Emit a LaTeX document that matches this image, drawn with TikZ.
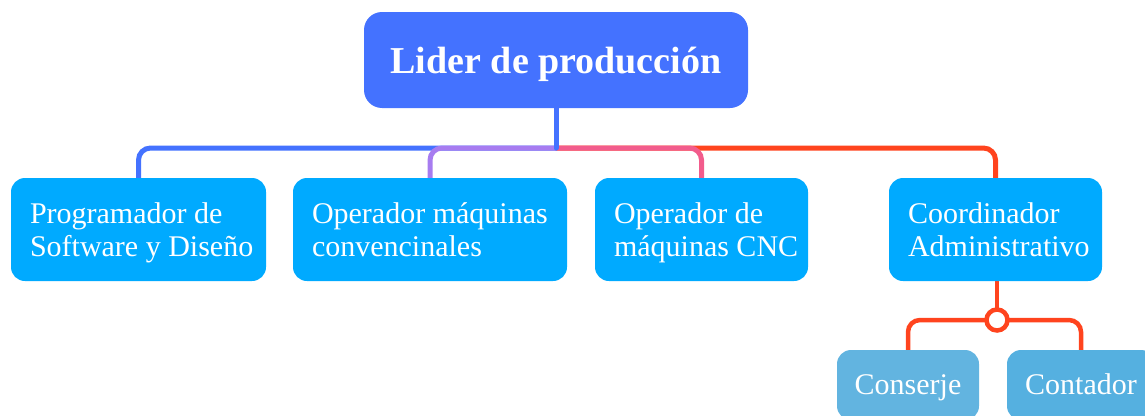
\documentclass[tikz,border=0pt]{standalone}
\usepackage{fontspec}
\setmainfont{Liberation Serif}
\definecolor{rootblue}{HTML}{4472FF}
\definecolor{cyanbox}{HTML}{00AAFF}
\definecolor{leafA}{HTML}{62B4E0}
\definecolor{leafB}{HTML}{55B0E0}
\definecolor{lblue}{HTML}{4472FF}
\definecolor{lpurple}{HTML}{A77CF0}
\definecolor{lpink}{HTML}{F25C8C}
\definecolor{lred}{HTML}{FF441E}
\pgfdeclarelayer{background}
\pgfsetlayers{background,main}
\begin{document}
\begin{tikzpicture}[x=1pt,y=-1pt,
  rootbox/.style={fill=rootblue, rounded corners=18pt, minimum width=384pt, minimum height=96pt,
    inner sep=0pt, text=white, font=\fontsize{38}{44}\selectfont\bfseries, text height=30pt, text depth=4pt},
  rolebox/.style={fill=cyanbox, rounded corners=14pt, minimum height=103pt, inner xsep=19pt, inner ysep=0pt,
    text=white, align=left, font=\fontsize{30}{33}\selectfont,
    execute at begin node={\spaceskip=0.25em\relax\xspaceskip=0.25em\relax\rule{0pt}{27pt}},
    execute at end node={\rule[-7pt]{0pt}{7pt}}},
  leafbox/.style={rounded corners=14pt, minimum height=70pt, inner sep=0pt, text=white,
    font=\fontsize{30}{33}\selectfont, text height=22pt, text depth=4pt},
  conn/.style={line width=5pt, rounded corners=12pt, line cap=round},
  junction/.style={circle, draw=lred, fill=white, line width=4.5pt, minimum size=21pt, inner sep=0pt}
]
\useasboundingbox (0,0) rectangle (1145,415);
\clip (0,0) rectangle (1145,415);

\node[rootbox] (root) at (556,60) {Lider de producción};

\node[rolebox, text width=217pt] (prog) at (138.5,229.5) {\mbox{Programador de}\\\mbox{Software y Diseño}};
\node[rolebox, text width=236pt] (conv) at (430,229.5) {\mbox{Operador máquinas}\\\mbox{convencinales}};
\node[rolebox, text width=175pt] (cnc) at (701.5,229.5) {\mbox{Operador de}\\\mbox{máquinas CNC}};
\node[rolebox, text width=175pt] (coord) at (995.5,229.5) {\mbox{Coordinador}\\\mbox{Administrativo}};

\node[leafbox, fill=leafA, minimum width=142pt] (cons) at (908,385) {Conserje};
\node[leafbox, fill=leafB, minimum width=148pt] (cont) at (1081,385) {Contador};

\coordinate (hub) at (556,148);
\node[junction] (junc) at (997,320) {};

\begin{pgfonlayer}{background}
  \draw[conn, lred] (hub) -| (coord.north);
  \draw[conn, lpink] (hub) -| (cnc.north);
  \draw[conn, lblue] (hub) -| (prog.north);
  \draw[conn, lpurple] (hub) -| (conv.north);
  \draw[conn, lblue] (root.south) -- (hub);
  \draw[conn, lred, line width=4.5pt] (junc |- coord.south) -- (junc.center);
  \draw[conn, lred, line width=4.5pt] (junc.center) -| (cons.north);
  \draw[conn, lred, line width=4.5pt] (junc.center) -| (cont.north);
\end{pgfonlayer}
\end{tikzpicture}
\end{document}
